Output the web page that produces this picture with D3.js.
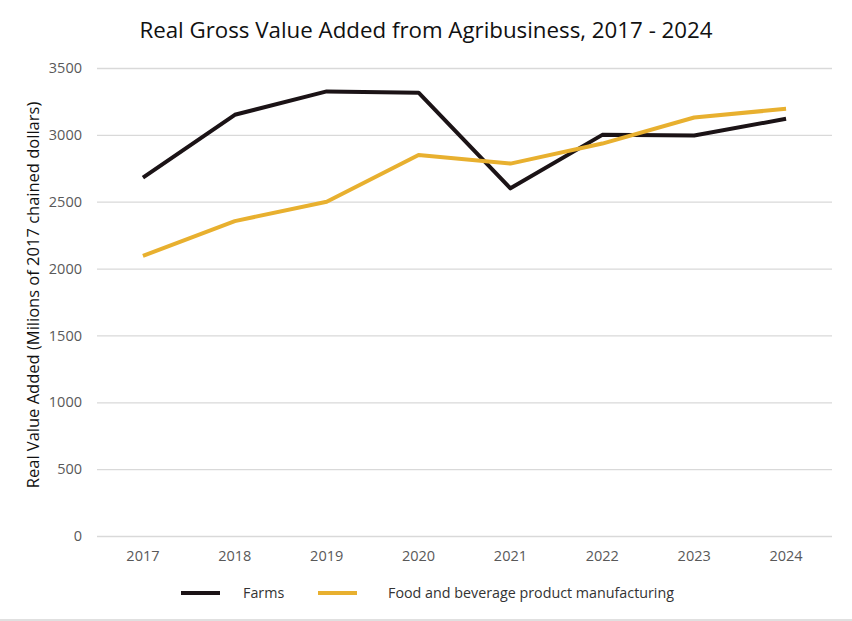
<!DOCTYPE html>
<html>
<head>
<meta charset="utf-8">
<script src="https://cdn.jsdelivr.net/npm/d3@7"></script>
<style>
  body { margin: 0; background: #fff; }
  svg { display: block; font-family: "Open Sans", sans-serif; }
</style>
</head>
<body>
<svg id="chart" width="852" height="621"></svg>
<script>
var years = ["2017", "2018", "2019", "2020", "2021", "2022", "2023", "2024"];
var farms = [2680, 3150, 3325, 3315, 2600, 3000, 2995, 3120];
var foodBev = [2095, 2355, 2500, 2850, 2785, 2935, 3130, 3195];
var yTicks = [0, 500, 1000, 1500, 2000, 2500, 3000, 3500];

var series = [
  { name: "Farms", values: farms, color: "#1b1316" },
  { name: "Food and beverage product manufacturing", values: foodBev, color: "#e8b02f" }
];

var svg = d3.select("#chart");
var margin = { top: 68, right: 20, bottom: 85, left: 97 };
var width = 852 - margin.left - margin.right;
var height = 621 - margin.top - margin.bottom;

var x = d3.scaleBand().domain(years).range([0, width]);
var y = d3.scaleLinear().domain([0, 3500]).range([height, 0]);

var g = svg.append("g")
  .attr("transform", "translate(" + margin.left + "," + margin.top + ")");

// gridlines + y labels
var yAxis = g.append("g")
  .call(d3.axisLeft(y).tickValues(yTicks).tickFormat(d3.format("d")).tickSize(-width).tickPadding(15));
yAxis.attr("font-family", "Open Sans, sans-serif");
yAxis.select(".domain").remove();
yAxis.selectAll(".tick line").attr("stroke", "#d9d9d9").attr("stroke-width", 1.3);
yAxis.selectAll(".tick text")
  .attr("fill", "#595959")
  .style("font-size", "14.5px");

// x labels
var xAxis = g.append("g")
  .attr("transform", "translate(0," + height + ")")
  .call(d3.axisBottom(x).tickSize(0).tickPadding(15));
xAxis.attr("font-family", "Open Sans, sans-serif");
xAxis.select(".domain").remove();
xAxis.selectAll(".tick text")
  .attr("fill", "#595959")
  .style("font-size", "14.5px");

var line = d3.line()
  .x(function (d, i) { return x(years[i]) + x.bandwidth() / 2; })
  .y(function (d) { return y(d); });

g.selectAll(".series")
  .data(series)
  .enter()
  .append("path")
  .attr("class", "series")
  .attr("fill", "none")
  .attr("stroke", function (d) { return d.color; })
  .attr("stroke-width", 4)
  .attr("stroke-linejoin", "round")
  .attr("d", function (d) { return line(d.values); });

// title
svg.append("text")
  .attr("x", 426)
  .attr("y", 38)
  .attr("text-anchor", "middle")
  .attr("fill", "#111")
  .style("font-size", "22.3px")
  .text("Real Gross Value Added from Agribusiness, 2017 - 2024");

// y axis title
svg.append("text")
  .attr("transform", "translate(39," + (margin.top + height / 2 - 7) + ") rotate(-90)")
  .attr("text-anchor", "middle")
  .attr("fill", "#111")
  .style("font-size", "16.5px")
  .text("Real Value Added (Milions of 2017 chained dollars)");

// legend
var legendPos = [181, 318];
var legend = svg.selectAll(".legend")
  .data(series)
  .enter()
  .append("g")
  .attr("class", "legend")
  .attr("transform", function (d, i) { return "translate(" + legendPos[i] + ",593)"; });
legend.append("line")
  .attr("x1", 0).attr("x2", 39)
  .attr("stroke", function (d) { return d.color; })
  .attr("stroke-width", 4);
legend.append("text")
  .attr("x", function (d, i) { return i === 0 ? 62 : 70; })
  .attr("dy", "0.35em")
  .attr("fill", "#333")
  .style("font-size", "14.3px")
  .text(function (d) { return d.name; });

svg.append("line")
  .attr("x1", 0).attr("x2", 852)
  .attr("y1", 620).attr("y2", 620)
  .attr("stroke", "#e0e0e0")
  .attr("stroke-width", 2);
</script>
</body>
</html>
